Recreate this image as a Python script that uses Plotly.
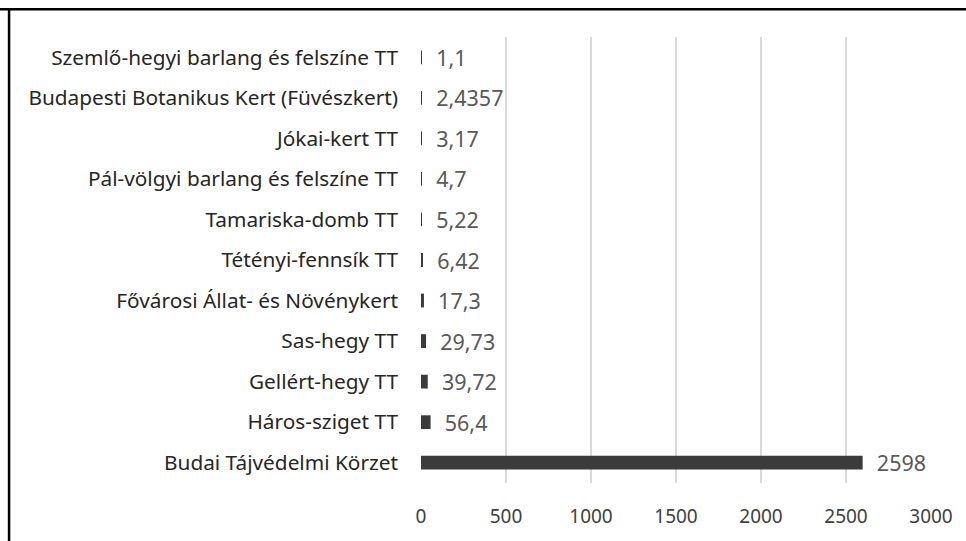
import plotly.graph_objects as go

# Védett területek nagysága (ha), alulról felfelé
categories = [
    "Budai Tájvédelmi Körzet",
    "Háros-sziget TT",
    "Gellért-hegy TT",
    "Sas-hegy TT",
    "Fővárosi Állat- és Növénykert",
    "Tétényi-fennsík TT",
    "Tamariska-domb TT",
    "Pál-völgyi barlang és felszíne TT",
    "Jókai-kert TT",
    "Budapesti Botanikus Kert (Füvészkert)",
    "Szemlő-hegyi barlang és felszíne TT",
]
values = [2598, 56.4, 39.72, 29.73, 17.3, 6.42, 5.22, 4.7, 3.17, 2.4357, 1.1]
x_ticks = [0, 500, 1000, 1500, 2000, 2500, 3000]

labels = ["\u00a0\u00a0" + str(v).replace(".", ",") for v in values]

fig = go.Figure(go.Bar(
    x=values,
    y=categories,
    orientation="h",
    width=0.34,
    marker=dict(color="#3b3b3b", line=dict(width=0)),
    text=labels,
    textposition="outside",
    constraintext="none",
    cliponaxis=False,
    textfont=dict(color="#595959", size=21.5),
))

fig.update_layout(
    width=966, height=541,
    margin=dict(l=421, r=35, t=37, b=53),
    paper_bgcolor="white",
    plot_bgcolor="white",
    font=dict(family="Noto Sans", size=20, color="#262626"),
    showlegend=False,
    shapes=[
        dict(type="line", xref="paper", yref="paper", x0=-1, x1=2, y0=1.062, y1=1.062,
             line=dict(color="black", width=2.5)),
        dict(type="line", xref="paper", yref="paper", x0=-0.8077, x1=-0.8077, y0=-1, y1=1.062,
             line=dict(color="black", width=2.5)),
    ],
)
fig.update_xaxes(
    range=[0, 3000],
    tickvals=x_ticks,
    showgrid=True, gridcolor="#d9d9d9", gridwidth=1.5,
    zeroline=False, showline=False,
    ticklabelstandoff=20,
    tickfont=dict(size=19, color="#404040"),
)
fig.update_yaxes(
    showgrid=False, zeroline=False, showline=False,
    ticklabelstandoff=22,
    tickfont=dict(size=20.8, color="#262626"),
)

fig.write_html("out.html", config={"displayModeBar": False},
               post_script="document.body.style.margin='0';")
